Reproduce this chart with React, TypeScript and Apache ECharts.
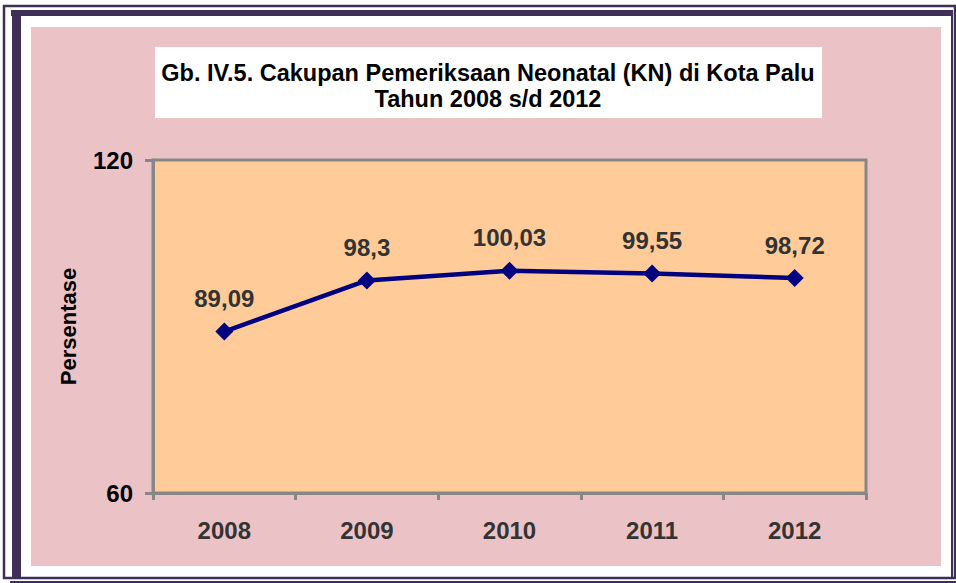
import React, { useEffect, useRef } from 'react';
import * as echarts from 'echarts';

const categories = ['2008', '2009', '2010', '2011', '2012'];
const values = [89.09, 98.3, 100.03, 99.55, 98.72];
const valueLabels = ['89,09', '98,3', '100,03', '99,55', '98,72'];
const yTickValues = [60, 120];
const titleLines = ['Gb. IV.5. Cakupan Pemeriksaan Neonatal (KN) di Kota Palu', 'Tahun 2008 s/d 2012'];
const yAxisName = 'Persentase';

const FONT = 'Liberation Sans';

export default function App() {
  const ref = useRef<HTMLDivElement>(null);
  useEffect(() => {
    document.body.style.margin = '0';
    const chart = echarts.init(ref.current!, null, { renderer: 'svg' });
    const dark = '#3d2f56';
    const grey = '#878787';
    chart.setOption({
      animation: false,
      backgroundColor: '#ffffff',
      graphic: [
        { type: 'rect', z: -100, shape: { x: 31, y: 27, width: 910, height: 539 }, style: { fill: '#EBC3C7' } },
        { type: 'rect', z: -90, shape: { x: 4, y: 6, width: 951, height: 572 }, style: { fill: 'none', stroke: dark, lineWidth: 2.5 } },
        { type: 'rect', z: -90, shape: { x: 11, y: 10, width: 942, height: 6 }, style: { fill: dark } },
        { type: 'rect', z: -90, shape: { x: 12, y: 10, width: 9, height: 567 }, style: { fill: dark } },
        { type: 'rect', z: -90, shape: { x: 951, y: 10, width: 2, height: 568 }, style: { fill: dark } },
        { type: 'rect', z: -90, shape: { x: 10, y: 581, width: 946, height: 2 }, style: { fill: dark } },
        { type: 'rect', z: -80, shape: { x: 155, y: 47, width: 667, height: 71 }, style: { fill: '#ffffff' } },
        {
          type: 'text', z: -70, x: 488, y: 73,
          style: { text: titleLines[0], fill: '#000', font: `bold 23.5px ${FONT}`, textAlign: 'center', textVerticalAlign: 'middle' },
        },
        {
          type: 'text', z: -70, x: 488, y: 99,
          style: { text: titleLines[1], fill: '#000', font: `bold 23.5px ${FONT}`, textAlign: 'center', textVerticalAlign: 'middle' },
        },
      ],
      grid: {
        left: 153, top: 160, right: 90, bottom: 90,
        show: true, backgroundColor: '#FFCC99', borderColor: grey, borderWidth: 3,
      },
      xAxis: {
        type: 'category',
        data: categories,
        boundaryGap: true,
        axisLine: { lineStyle: { color: grey, width: 3 } },
        axisTick: { show: true, length: 7, lineStyle: { color: grey, width: 3 } },
        axisLabel: { color: '#333', fontSize: 24, fontWeight: 'bold', fontFamily: FONT, margin: 25 },
        splitLine: { show: false },
      },
      yAxis: {
        type: 'value',
        min: 60,
        max: 120,
        interval: 20,
        name: yAxisName,
        nameLocation: 'middle',
        nameGap: 74,
        nameTextStyle: { color: '#000', fontSize: 22, fontWeight: 'bold', fontFamily: FONT },
        axisLine: { show: true, lineStyle: { color: grey, width: 3 } },
        axisTick: { show: true, customValues: yTickValues, length: 8, lineStyle: { color: grey, width: 3 } },
        axisLabel: { customValues: yTickValues, color: '#000', fontSize: 24, fontWeight: 'bold', fontFamily: FONT, margin: 20 },
        splitLine: { show: true, lineStyle: { color: grey, width: 2 } },
      },
      series: [
        {
          type: 'line',
          data: values,
          symbol: 'diamond',
          symbolSize: 18,
          lineStyle: { color: '#000080', width: 4.5 },
          itemStyle: { color: '#000080' },
          label: {
            show: true,
            position: 'top',
            distance: 12,
            formatter: (p: any) => valueLabels[p.dataIndex],
            color: '#333',
            fontSize: 24,
            fontWeight: 'bold',
            fontFamily: FONT,
          },
        },
      ],
    });
    return () => chart.dispose();
  }, []);
  return <div ref={ref} style={{ width: 956, height: 583 }} />;
}
